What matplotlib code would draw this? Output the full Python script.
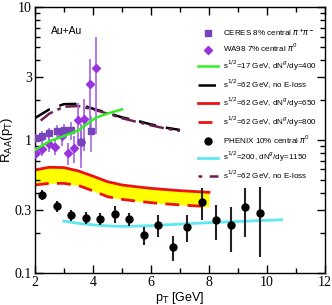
import matplotlib
matplotlib.use("Agg")
import matplotlib.pyplot as plt
import numpy as np
from matplotlib.ticker import FixedLocator, NullFormatter, FixedFormatter
from matplotlib import font_manager

# ---------------- data ----------------
ceres_x = [2.05, 2.25, 2.5, 2.75, 3.0, 3.25, 3.6, 3.95]
ceres_y = [1.03, 1.07, 1.12, 1.16, 1.18, 1.18, 0.97, 1.16]
ceres_err = [0.08, 0.10, 0.12, 0.14, 0.15, 0.18, 0.22, 0.35]

wa98_x = [2.05, 2.25, 2.5, 2.7, 2.95, 3.15, 3.35, 3.5, 3.6, 3.7, 3.9, 4.1]
wa98_y = [0.80, 0.86, 0.93, 0.89, 1.08, 0.80, 0.87, 1.41, 0.97, 1.43, 2.64, 3.5]
wa98_err = [0.08, 0.10, 0.12, 0.12, 0.18, 0.15, 0.20, 0.50, 0.35, 0.60, 1.40, 2.40]

green_x = [2.0, 2.5, 3.0, 3.5, 3.8, 4.1, 4.5, 5.0]
green_y = [0.84, 0.98, 1.07, 1.18, 1.32, 1.47, 1.58, 1.70]

black_x = [2.0, 2.5, 3.0, 3.5, 4.0, 4.5, 5.0, 5.5, 6.0, 6.5, 7.0]
black_y = [1.46, 1.70, 1.86, 1.87, 1.72, 1.60, 1.48, 1.40, 1.31, 1.24, 1.19]

maroon_x = [2.2, 2.5, 3.0, 3.5, 4.0, 4.5, 5.0, 5.5, 6.0, 6.5, 7.0]
maroon_y = [1.40, 1.58, 1.78, 1.80, 1.70, 1.58, 1.46, 1.37, 1.29, 1.22, 1.17]

band_x = [2.0, 2.5, 3.0, 3.5, 4.0, 4.5, 5.0, 5.5, 6.0, 6.5, 7.0, 7.5, 8.0]
red650_y = [0.595, 0.624, 0.620, 0.585, 0.535, 0.486, 0.459, 0.445, 0.433, 0.424, 0.416, 0.410, 0.404]
red800_y = [0.459, 0.472, 0.472, 0.455, 0.415, 0.375, 0.358, 0.347, 0.338, 0.331, 0.325, 0.320, 0.315]

cyan_x = [3.0, 3.5, 4.0, 4.5, 5.0, 5.5, 6.0, 6.5, 7.0, 7.5, 8.0, 9.0, 10.0, 10.5]
cyan_y = [0.246, 0.236, 0.230, 0.226, 0.224, 0.225, 0.227, 0.230, 0.233, 0.236, 0.239, 0.244, 0.249, 0.251]

phenix_x = [2.25, 2.75, 3.25, 3.75, 4.25, 4.75, 5.25, 5.75, 6.25, 6.75, 7.25, 7.75, 8.25, 8.75, 9.25, 9.75]
phenix_y = [0.386, 0.319, 0.272, 0.260, 0.253, 0.278, 0.253, 0.193, 0.230, 0.158, 0.220, 0.344, 0.250, 0.230, 0.312, 0.284]
phenix_lo = [0.354, 0.289, 0.247, 0.234, 0.230, 0.239, 0.226, 0.162, 0.188, 0.124, 0.172, 0.250, 0.177, 0.145, 0.188, 0.131]
phenix_hi = [0.421, 0.350, 0.298, 0.289, 0.284, 0.319, 0.281, 0.223, 0.273, 0.190, 0.273, 0.433, 0.325, 0.312, 0.433, 0.441]

legend_labels = [
    r"CERES 8% central $\pi^{+}\pi^{-}$",
    r"WA98 7% central $\pi^{0}$",
    r"s$^{1/2}$=17 GeV, dN$^{g}$/dy=400",
    r"s$^{1/2}$=62 GeV, no E-loss",
    r"s$^{1/2}$=62 GeV, dN$^{g}$/dy=650",
    r"s$^{1/2}$=62 GeV, dN$^{g}$/dy=800",
    r"PHENIX 10% central $\pi^{0}$",
    r"s$^{1/2}$=200, dN$^{g}$/dy=1150",
    r"s$^{1/2}$=62 GeV, no E-loss",
]

# ---------------- plot ----------------
fig = plt.figure(figsize=(3.32, 3.05), dpi=100)
ax = fig.add_axes([0.105, 0.105, 0.874, 0.872])

sans = "Liberation Sans"
serif = "Liberation Serif"
avail = {f.name for f in font_manager.fontManager.ttflist}
legfont = "Liberation Sans Narrow" if "Liberation Sans Narrow" in avail else sans

ax.fill_between(band_x, red800_y, red650_y, color="#ffff00", lw=0, zorder=1)
ax.plot(band_x, red650_y, color="#ee1111", lw=2.0, zorder=2)
ax.plot(band_x, red800_y, color="#ee1111", lw=2.0, dashes=(5, 3), zorder=2)

ax.plot(cyan_x, cyan_y, color="#60e8f0", lw=2.0, zorder=2)

ax.plot(black_x, black_y, color="black", lw=1.8, dashes=(7, 4), zorder=3)
ax.plot(maroon_x, maroon_y, color="#6b1f4f", lw=1.8, dashes=(6, 2, 1.5, 2), zorder=3)

ax.errorbar(wa98_x, wa98_y, yerr=wa98_err, fmt="D", color="#9933dd", ms=4,
            ecolor="#a860e8", elinewidth=1.2, capsize=0, zorder=4)
ax.errorbar(ceres_x, ceres_y, yerr=ceres_err, fmt="s", color="#7744bb", ms=4,
            ecolor="#a070d8", elinewidth=1.2, capsize=0, zorder=4)

ax.plot(green_x, green_y, color="#33ee22", lw=1.8, zorder=5)

perr = [np.array(phenix_y) - np.array(phenix_lo), np.array(phenix_hi) - np.array(phenix_y)]
ax.errorbar(phenix_x, phenix_y, yerr=perr, fmt="o", color="black", ms=5,
            ecolor="#222222", elinewidth=1.5, capsize=0, zorder=6)

ax.set_yscale("log")
ax.set_xlim(2, 12)
ax.set_ylim(0.1, 10)

major_y = [0.1, 0.3, 1, 3, 10]
ax.yaxis.set_major_locator(FixedLocator(major_y))
ax.yaxis.set_major_formatter(FixedFormatter(["0.1", "0.3", "1", "3", "10"]))
minor_y = [v * d for d in (0.1, 1) for v in (2, 4, 5, 6, 7, 8, 9)]
ax.yaxis.set_minor_locator(FixedLocator(minor_y))
ax.yaxis.set_minor_formatter(NullFormatter())

ax.set_xticks([2, 4, 6, 8, 10, 12])
ax.set_xticks(np.arange(2, 12.5, 1), minor=True)

ax.tick_params(which="both", direction="in", top=True, right=True, width=1.0)
ax.tick_params(which="major", length=6, labelsize=10, pad=2)
ax.tick_params(which="minor", length=3.5)
for lab in ax.get_xticklabels() + ax.get_yticklabels():
    lab.set_fontfamily(serif)

for s in ax.spines.values():
    s.set_linewidth(1.0)

ax.set_xlabel(r"p$_\mathrm{T}$ [GeV]", fontsize=9, family=sans, labelpad=1)
ax.set_ylabel(r"R$_\mathrm{AA}$(p$_\mathrm{T}$)", fontsize=9.5, family=sans, labelpad=0)

ax.text(2.55, 6.6, "Au+Au", fontsize=7.5, family=sans, va="center")

# legend
from matplotlib.lines import Line2D
handles = [
    Line2D([], [], ls="none", marker="s", color="#7744bb", ms=4),
    Line2D([], [], ls="none", marker="D", color="#9933dd", ms=4),
    Line2D([], [], color="#33ee22", lw=1.8),
    Line2D([], [], color="black", lw=1.8, dashes=(7, 4)),
    Line2D([], [], color="#ee1111", lw=2.0),
    Line2D([], [], color="#ee1111", lw=2.0, dashes=(5, 3)),
    Line2D([], [], ls="none", marker="o", color="black", ms=5),
    Line2D([], [], color="#60e8f0", lw=2.0),
    Line2D([], [], color="#6b1f4f", lw=1.8, dashes=(1.5, 3, 6, 2)),
]
leg = ax.legend(handles, legend_labels, loc="upper right", bbox_to_anchor=(0.99, 0.95),
                frameon=False, prop={"family": legfont, "size": 5.8},
                labelspacing=0.55, handlelength=2.4, handletextpad=0.6,
                borderaxespad=0.3)

fig.savefig("out.png", dpi=100)
